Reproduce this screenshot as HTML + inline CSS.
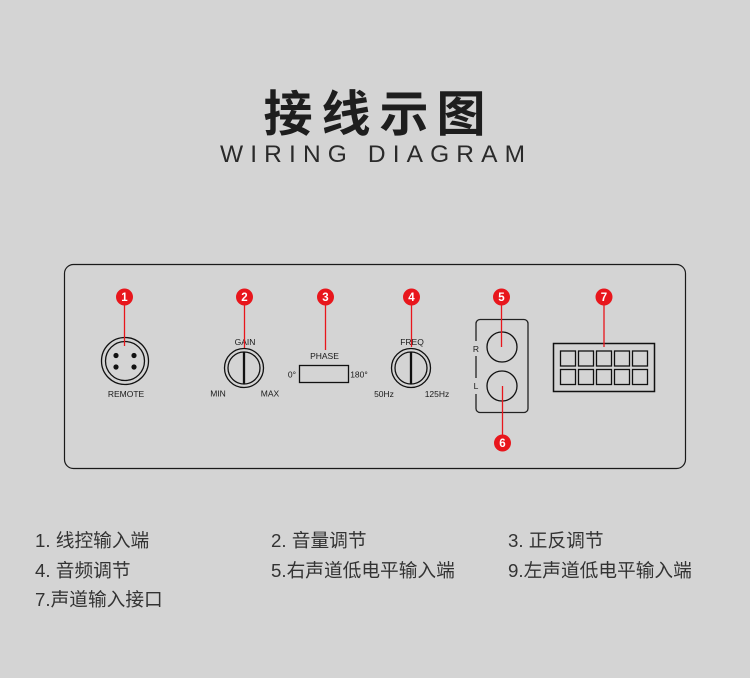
<!DOCTYPE html>
<html><head><meta charset="utf-8"><style>
html,body{margin:0;padding:0;background:#d4d4d4;}
svg{display:block;}
</style></head><body>
<svg width="750" height="678" viewBox="0 0 750 678" xmlns="http://www.w3.org/2000/svg">
<rect width="750" height="678" fill="#d4d4d4"/>
<!-- Title -->
<g font-family="'Noto Sans CJK SC','WenQuanYi Zen Hei',sans-serif" font-weight="bold" font-size="49" fill="#1e1e1e" text-anchor="middle">
<text x="288" y="131">接</text>
<text x="346" y="131">线</text>
<text x="404" y="131">示</text>
<text x="461" y="131">图</text>
</g>
<text x="220" y="162" font-family="'Liberation Sans',sans-serif" font-size="24.5" fill="#2a2a2a" textLength="305" lengthAdjust="spacing">WIRING DIAGRAM</text>

<!-- Panel -->
<rect x="64.5" y="264.5" width="621" height="204" rx="9" fill="none" stroke="#1a1a1a" stroke-width="1.2"/>

<g font-family="'Liberation Sans',sans-serif" font-size="8.5" fill="#1a1a1a" text-anchor="middle">
<!-- Remote -->
<circle cx="125" cy="361" r="23.5" fill="none" stroke="#111" stroke-width="1.3"/>
<circle cx="125" cy="361" r="19.5" fill="none" stroke="#111" stroke-width="1.3"/>
<circle cx="116" cy="355.5" r="2.6" fill="#111"/>
<circle cx="134" cy="355.5" r="2.6" fill="#111"/>
<circle cx="116" cy="367" r="2.6" fill="#111"/>
<circle cx="134" cy="367" r="2.6" fill="#111"/>
<text x="126" y="397">REMOTE</text>

<!-- Gain -->
<circle cx="244" cy="368" r="19.5" fill="none" stroke="#111" stroke-width="1.3"/>
<circle cx="244" cy="368" r="16" fill="none" stroke="#111" stroke-width="1.3"/>
<line x1="244" y1="352" x2="244" y2="384" stroke="#111" stroke-width="2.3"/>
<text x="245" y="345">GAIN</text>
<text x="218" y="396.5">MIN</text>
<text x="270" y="396.5">MAX</text>

<!-- Phase -->
<text x="324.5" y="359">PHASE</text>
<rect x="299.5" y="365.5" width="49" height="17" fill="none" stroke="#111" stroke-width="1.3"/>
<text x="292" y="377.5">0°</text>
<text x="359" y="377.5">180°</text>

<!-- Freq -->
<circle cx="411" cy="368" r="19.5" fill="none" stroke="#111" stroke-width="1.3"/>
<circle cx="411" cy="368" r="16" fill="none" stroke="#111" stroke-width="1.3"/>
<line x1="411" y1="352" x2="411" y2="384" stroke="#111" stroke-width="2.3"/>
<text x="412" y="345">FREQ</text>
<text x="384" y="397">50Hz</text>
<text x="437" y="397">125Hz</text>

<!-- RL box -->
<rect x="476" y="319.5" width="52" height="93" rx="4" fill="none" stroke="#222" stroke-width="1.3"/>
<rect x="471" y="341" width="10" height="15" fill="#d4d4d4"/>
<rect x="471" y="378" width="10" height="16" fill="#d4d4d4"/>
<text x="476" y="352">R</text>
<text x="476" y="389">L</text>
<circle cx="502" cy="347" r="15" fill="none" stroke="#111" stroke-width="1.3"/>
<circle cx="502" cy="386" r="15" fill="none" stroke="#111" stroke-width="1.3"/>

<!-- Connector 7 -->
<rect x="553.5" y="343.5" width="101" height="48" fill="none" stroke="#111" stroke-width="1.5"/>
<g fill="none" stroke="#111" stroke-width="1.3">
<rect x="560.5" y="351" width="15" height="15"/>
<rect x="578.5" y="351" width="15" height="15"/>
<rect x="596.5" y="351" width="15" height="15"/>
<rect x="614.5" y="351" width="15" height="15"/>
<rect x="632.5" y="351" width="15" height="15"/>
<rect x="560.5" y="369.5" width="15" height="15"/>
<rect x="578.5" y="369.5" width="15" height="15"/>
<rect x="596.5" y="369.5" width="15" height="15"/>
<rect x="614.5" y="369.5" width="15" height="15"/>
<rect x="632.5" y="369.5" width="15" height="15"/>
</g>
</g>

<!-- Red leader lines -->
<g stroke="#e8161c" stroke-width="1.3">
<line x1="124.5" y1="297" x2="124.5" y2="346"/>
<line x1="244.5" y1="297" x2="244.5" y2="348"/>
<line x1="325.5" y1="297" x2="325.5" y2="350"/>
<line x1="411.5" y1="297" x2="411.5" y2="347"/>
<line x1="501.5" y1="297" x2="501.5" y2="347"/>
<line x1="502.5" y1="386" x2="502.5" y2="443"/>
<line x1="604" y1="297" x2="604" y2="347"/>
</g>

<!-- Badges -->
<g fill="#e8161c">
<circle cx="124.5" cy="297" r="8.5"/>
<circle cx="244.5" cy="297" r="8.5"/>
<circle cx="325.5" cy="297" r="8.5"/>
<circle cx="411.5" cy="297" r="8.5"/>
<circle cx="501.5" cy="297" r="8.5"/>
<circle cx="502.5" cy="443" r="8.5"/>
<circle cx="604" cy="297" r="8.5"/>
</g>
<g font-family="'Liberation Sans',sans-serif" font-weight="bold" font-size="11.5" fill="#fff" text-anchor="middle">
<text x="124.5" y="301">1</text>
<text x="244.5" y="301">2</text>
<text x="325.5" y="301">3</text>
<text x="411.5" y="301">4</text>
<text x="501.5" y="301">5</text>
<text x="502.5" y="447">6</text>
<text x="604" y="301">7</text>
</g>

<!-- Legend -->
<g font-family="'Liberation Sans','Noto Sans CJK SC',sans-serif" font-size="18.7" fill="#333">
<text x="35" y="547">1. 线控输入端</text>
<text x="271" y="547">2. 音量调节</text>
<text x="508" y="547">3. 正反调节</text>
<text x="35" y="577">4. 音频调节</text>
<text x="271" y="577">5.右声道低电平输入端</text>
<text x="508" y="577">9.左声道低电平输入端</text>
<text x="35" y="606">7.声道输入接口</text>
</g>
</svg>
</body></html>
